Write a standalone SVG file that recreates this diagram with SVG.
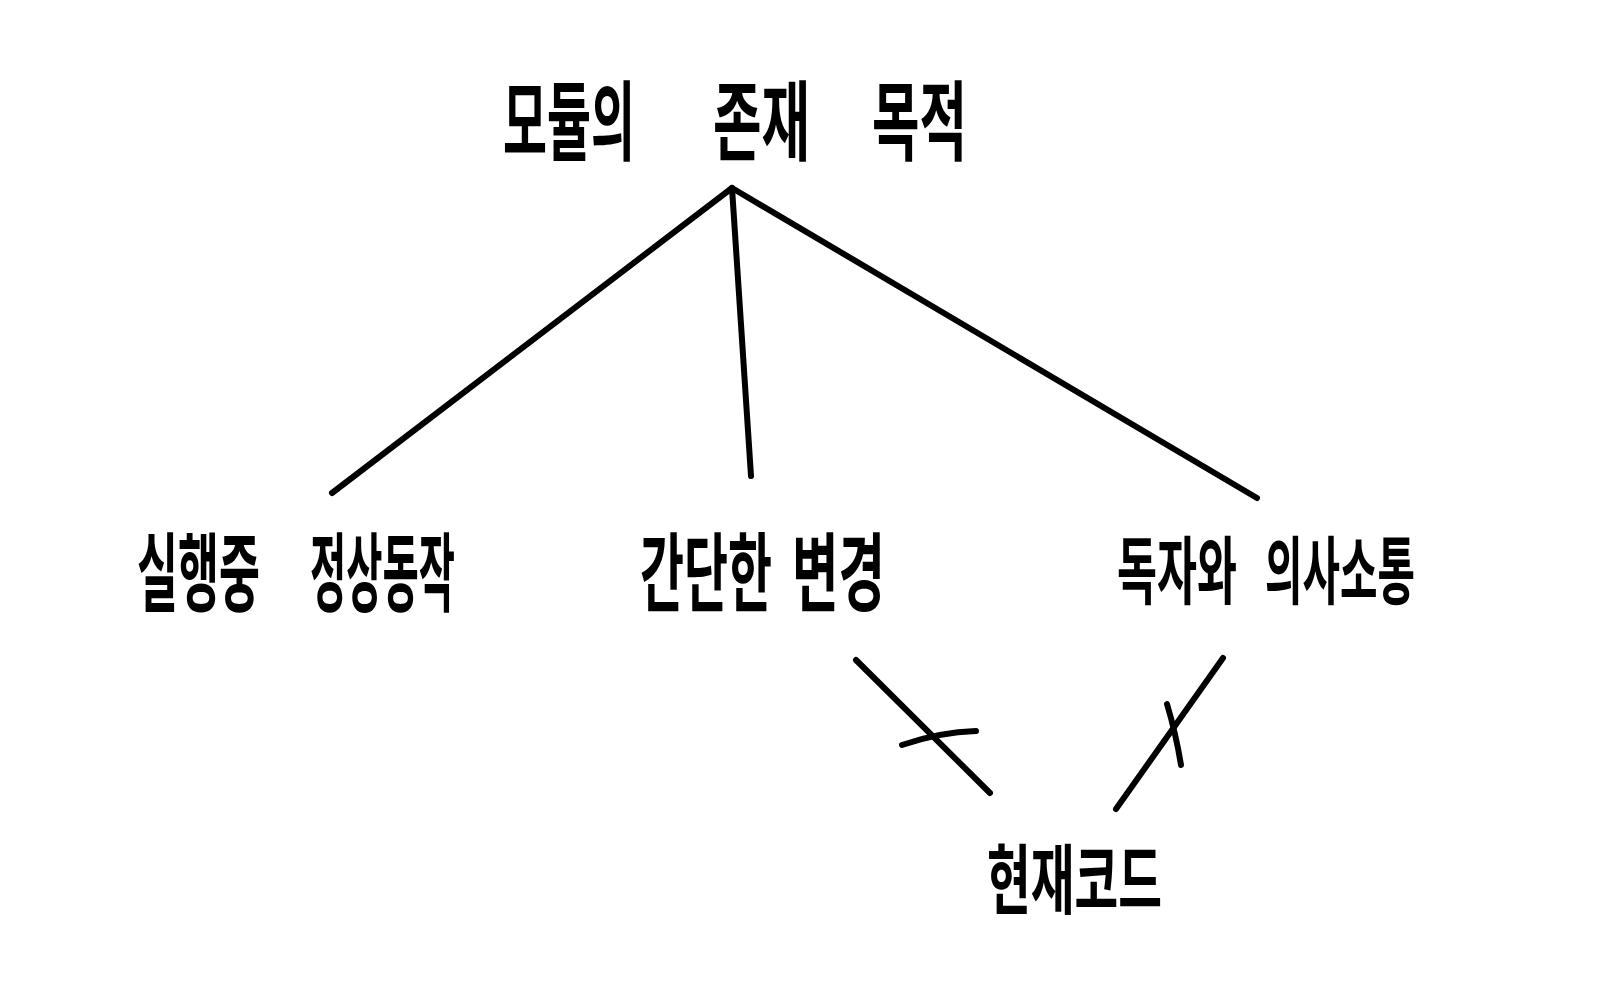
<svg xmlns="http://www.w3.org/2000/svg" width="1612" height="1000" viewBox="0 0 1612 1000">
<style>
.lbl{font-family:"Noto Sans CJK KR","Noto Sans",sans-serif;font-weight:700;fill:#000;}
.ln{stroke:#000;stroke-width:6;stroke-linecap:round;fill:none;}
</style>
<rect width="1612" height="1000" fill="#fff"/>
<g id="connectors">
<line class="ln" x1="732" y1="188" x2="332" y2="493"/>
<line class="ln" x1="732" y1="188" x2="751" y2="476"/>
<line class="ln" x1="732" y1="188" x2="1257" y2="498"/>
<line class="ln" x1="856" y1="660" x2="990" y2="793"/>
<path class="ln" d="M902 745 Q940 732 976 731"/>
<line class="ln" x1="1223" y1="658" x2="1116" y2="809"/>
<path class="ln" d="M1167 704 Q1176 734 1181 765"/>
</g>
<g id="node-purpose">
<text class="lbl" y="0" font-size="46" transform="translate(0,154) scale(1,1.89)"><tspan x="503" textLength="132" lengthAdjust="spacingAndGlyphs">모듈의</tspan><tspan x="713" textLength="97" lengthAdjust="spacingAndGlyphs">존재</tspan><tspan x="872" textLength="95" lengthAdjust="spacingAndGlyphs">목적</tspan></text>
</g>
<g id="node-runtime">
<text class="lbl" y="0" font-size="40" transform="translate(0,605) scale(1,2.17)"><tspan x="137" textLength="123" lengthAdjust="spacingAndGlyphs">실행중</tspan><tspan x="310" textLength="145" lengthAdjust="spacingAndGlyphs">정상동작</tspan></text>
</g>
<g id="node-change">
<text class="lbl" y="0" font-size="40" transform="translate(0,605) scale(1,2.17)"><tspan x="640" textLength="132" lengthAdjust="spacingAndGlyphs">간단한</tspan><tspan x="792" textLength="93" lengthAdjust="spacingAndGlyphs">변경</tspan></text>
</g>
<g id="node-communication">
<text class="lbl" y="0" font-size="38" transform="translate(0,598) scale(1,1.95)"><tspan x="1117" textLength="120" lengthAdjust="spacingAndGlyphs">독자와</tspan><tspan x="1265" textLength="150" lengthAdjust="spacingAndGlyphs">의사소통</tspan></text>
</g>
<g id="node-current-code">
<text class="lbl" x="987" y="0" font-size="43" transform="translate(0,908) scale(1,1.77)" textLength="175" lengthAdjust="spacingAndGlyphs">현재코드</text>
</g>
</svg>
